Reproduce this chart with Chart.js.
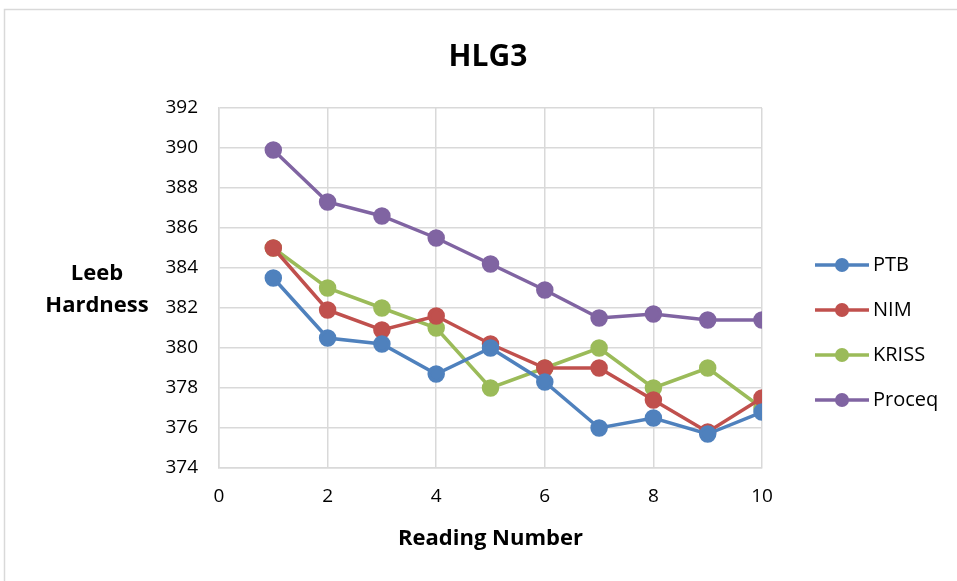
<!DOCTYPE html>
<html>
<head>
<meta charset="utf-8">
<script src="https://cdn.jsdelivr.net/npm/chart.js@4/dist/chart.umd.min.js"></script>
<style>
html,body{margin:0;padding:0;background:#fff;}
#wrap{width:957px;height:581px;position:relative;}
</style>
</head>
<body>
<div id="wrap"><canvas id="c" width="957" height="581"></canvas></div>
<script>
const readings = [1,2,3,4,5,6,7,8,9,10];
const ptb    = [383.5,380.5,380.2,378.7,380.0,378.3,376.0,376.5,375.7,376.8];
const nim    = [385.0,381.9,380.9,381.6,380.2,379.0,379.0,377.4,375.8,377.5];
const kriss  = [385.0,383.0,382.0,381.0,378.0,379.0,380.0,378.0,379.0,377.0];
const proceq = [389.9,387.3,386.6,385.5,384.2,382.9,381.5,381.7,381.4,381.4];
const seriesNames = ['PTB','NIM','KRISS','Proceq'];
const chartTitle = 'HLG3';
const xTitle = 'Reading Number';
const yTitleLines = ['Leeb','Hardness'];

const colors = ['#4F81BD','#C0504D','#9BBB59','#8064A2'];
const FONT = '"Open Sans", Lato, sans-serif';
const seriesVals = [ptb,nim,kriss,proceq];

const datasets = seriesVals.map((vals,i)=>({
  label: seriesNames[i],
  data: readings.map((x,j)=>({x:x,y:vals[j]})),
  showLine: true,
  borderColor: colors[i],
  backgroundColor: colors[i],
  pointBackgroundColor: colors[i],
  pointBorderColor: colors[i],
  borderWidth: 3.5,
  pointRadius: 7,
  pointHoverRadius: 7,
  tension: 0
}));

const decor = {
  id:'decor',
  afterDraw(chart){
    const ctx = chart.ctx;
    ctx.save();
    // border
    ctx.strokeStyle = '#D9D9D9';
    ctx.lineWidth = 1.5;
    ctx.strokeRect(4.5, 9.5, 960, 600);
    // title
    ctx.fillStyle = '#000';
    ctx.font = 'bold 30px ' + FONT;
    ctx.textAlign = 'center';
    ctx.textBaseline = 'middle';
    ctx.fillText(chartTitle, 488, 57);
    // y title
    ctx.font = 'bold 22px ' + FONT;
    ctx.fillText(yTitleLines[0], 97, 274);
    ctx.fillText(yTitleLines[1], 97, 306);
    // legend
    const ys = [265,310,355,400];
    chart.data.datasets.forEach((ds,i)=>{
      const y = ys[i];
      ctx.strokeStyle = ds.borderColor;
      ctx.lineWidth = 3.5;
      ctx.beginPath(); ctx.moveTo(815,y); ctx.lineTo(869,y); ctx.stroke();
      ctx.fillStyle = ds.borderColor;
      ctx.beginPath(); ctx.arc(842,y,7,0,Math.PI*2); ctx.fill();
      ctx.fillStyle = '#000';
      ctx.font = '20px ' + FONT;
      ctx.textAlign = 'left';
      ctx.fillText(ds.label, 873, y);
    });
    ctx.restore();
  }
};

new Chart(document.getElementById('c'), {
  type: 'scatter',
  data: { datasets },
  options: {
    responsive: false,
    animation: false,
    events: [],
    layout: { padding: { top: 108, right: 195, bottom: 0, left: 0 } },
    plugins: { legend: { display: false }, tooltip: { enabled: false }, title: { display: false } },
    scales: {
      x: {
        type: 'linear', min: 0, max: 10,
        afterFit(s){ s.height = 113; },
        ticks: { stepSize: 2, padding: 17, color: '#000', font: { family: FONT, size: 19 } },
        grid: { color: '#D9D9D9', lineWidth: 1.5, drawTicks: false },
        border: { color: '#D9D9D9', width: 1.5 },
        title: { display: true, text: xTitle, color: '#000', font: { family: FONT, size: 22, weight: 'bold' }, padding: { top: 14, bottom: 29 } }
      },
      y: {
        type: 'linear', min: 374, max: 392,
        afterFit(s){ s.width = 219; },
        ticks: { stepSize: 2, padding: 21, color: '#000', font: { family: FONT, size: 19 } },
        grid: { color: '#D9D9D9', lineWidth: 1.5, drawTicks: false },
        border: { color: '#D9D9D9', width: 1.5 }
      }
    }
  },
  plugins: [decor]
});
</script>
</body>
</html>
